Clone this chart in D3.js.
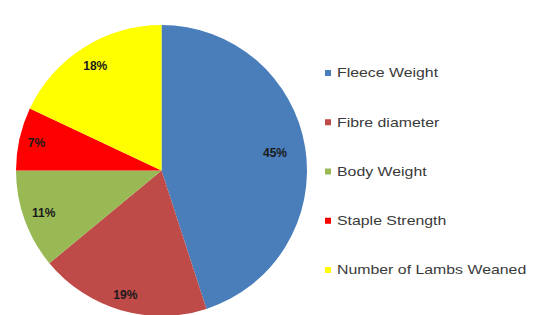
<!DOCTYPE html>
<html>
<head>
<meta charset="utf-8">
<script src="https://cdn.jsdelivr.net/npm/d3@7/dist/d3.min.js"></script>
<style>
  html, body { margin: 0; padding: 0; background: #ffffff; }
  svg { display: block; }
</style>
</head>
<body>
<svg id="chart" width="534" height="315"></svg>
<script>
// ---- data ----
const categories = ["Fleece Weight", "Fibre diameter", "Body Weight", "Staple Strength", "Number of Lambs Weaned"];
const values = [45, 19, 11, 7, 18];
const labels = ["45%", "19%", "11%", "7%", "18%"];

// ---- style ----
const colors = ["#4a7ebb", "#be4b48", "#98b954", "#ff0000", "#ffff00"];
const labelRadiusFactor = [0.79, 0.89, 0.86, 0.88, 0.85];

const W = 534, H = 315;
const cx = 161.5, cy = 170.5, r = 145.5;

const svg = d3.select("#chart");

const pie = d3.pie().sort(null).value(d => d)(values);
const arc = d3.arc().innerRadius(0).outerRadius(r);

const g = svg.append("g").attr("transform", `translate(${cx},${cy})`);

g.selectAll("path.slice")
  .data(pie)
  .join("path")
  .attr("class", "slice")
  .attr("d", arc)
  .attr("fill", (d, i) => colors[i]);

g.selectAll("text.lbl")
  .data(pie)
  .join("text")
  .attr("class", "lbl")
  .attr("transform", (d, i) => {
    const lr = r * labelRadiusFactor[i];
    const c = d3.arc().innerRadius(lr).outerRadius(lr).centroid(d);
    return `translate(${c[0]},${c[1]})`;
  })
  .attr("text-anchor", "middle")
  .attr("dominant-baseline", "central")
  .attr("font-family", "'Liberation Sans', Arial, sans-serif")
  .attr("font-size", 12)
  .attr("font-weight", "bold")
  .attr("fill", "#1a1a1a")
  .text((d, i) => labels[i]);

// ---- legend ----
const legendY = d3.scalePoint().domain(categories).range([73, 270]);
const leg = svg.append("g");
const items = leg.selectAll("g.item")
  .data(categories)
  .join("g")
  .attr("class", "item")
  .attr("transform", d => `translate(325,${legendY(d)})`);

items.append("rect")
  .attr("x", 0).attr("y", -3)
  .attr("width", 6).attr("height", 6)
  .attr("fill", (d, i) => colors[i]);

items.append("text")
  .attr("transform", "translate(12,0) scale(1.22,1)")
  .attr("dominant-baseline", "central")
  .attr("font-family", "'Liberation Sans', Arial, sans-serif")
  .attr("font-size", 13)
  .attr("fill", "#3a3a3a")
  .text(d => d);
</script>
</body>
</html>
